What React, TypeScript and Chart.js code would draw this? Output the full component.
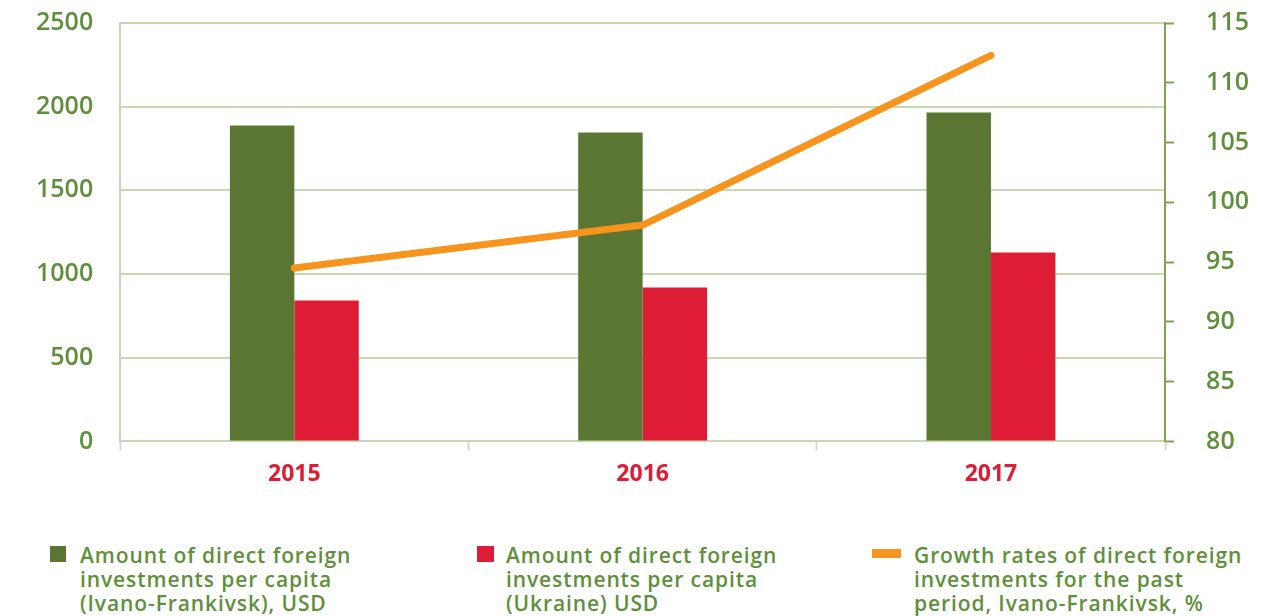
import React, { useEffect, useRef } from "react";
import { Chart, registerables } from "chart.js";

Chart.register(...registerables);

const categories = ["2015", "2016", "2017"];
const perCapitaIvanoFrankivsk = [1888, 1846, 1965];
const perCapitaUkraine = [842, 920, 1129];
const growthRates = [94.5, 98.1, 112.3];

const seriesNames = [
  "Amount of direct foreign\ninvestments per capita\n(Ivano-Frankivsk), USD",
  "Amount of direct foreign\ninvestments per capita\n(Ukraine) USD",
  "Growth rates of direct foreign\ninvestments for the past\nperiod, Ivano-Frankivsk, %",
];

const GREEN_BAR = "#5a7632";
const RED_BAR = "#df1c35";
const ORANGE = "#f7941d";
const TEXT_GREEN = "#5f8f3b";
const GRID = "#c6d9b3";
const RIGHT_AXIS = "#7fa35a";

export default function App() {
  const ref = useRef<HTMLCanvasElement | null>(null);

  useEffect(() => {
    document.body.style.margin = "0";
    const ctx = ref.current;
    if (!ctx) return;
    const chart = new Chart(ctx, {
      type: "bar",
      data: {
        labels: categories,
        datasets: [
          {
            type: "line",
            label: seriesNames[2],
            data: growthRates,
            yAxisID: "y1",
            borderColor: ORANGE,
            backgroundColor: ORANGE,
            borderWidth: 7,
            borderCapStyle: "round",
            borderJoinStyle: "round",
            pointRadius: 0,
            tension: 0,
            order: 0,
          } as any,
          {
            label: seriesNames[0],
            data: perCapitaIvanoFrankivsk,
            backgroundColor: GREEN_BAR,
            yAxisID: "y",
            order: 1,
          },
          {
            label: seriesNames[1],
            data: perCapitaUkraine,
            backgroundColor: RED_BAR,
            yAxisID: "y",
            order: 2,
          },
        ],
      },
      options: {
        responsive: false,
        animation: false,
        devicePixelRatio: 1,
        layout: { padding: { left: 9, right: 0, top: 0, bottom: 6 } },
        datasets: {
          bar: { categoryPercentage: 0.37, barPercentage: 1 },
        } as any,
        plugins: {
          legend: { display: false },
          tooltip: { enabled: false },
        },
        scales: {
          x: {
            grid: {
              drawOnChartArea: false,
              drawTicks: true,
              tickLength: 9,
              tickColor: "#d6d6d6",
              tickWidth: 2,
              offset: true,
            },
            border: { color: GRID, width: 2 },
            ticks: {
              color: RED_BAR,
              padding: 10,
              font: { family: "'Open Sans', sans-serif", size: 23, weight: "bold" },
            },
          },
          y: {
            position: "left",
            min: 0,
            max: 2500,
            ticks: {
              stepSize: 500,
              color: TEXT_GREEN,
              padding: 27,
              callback: (v: any) => String(v),
              font: { family: "'Open Sans', sans-serif", size: 25, weight: 600 },
            },
            grid: { color: GRID, lineWidth: 2, drawTicks: false },
            border: { color: GRID, width: 2 },
          },
          y1: {
            position: "right",
            min: 80,
            max: 115,
            ticks: {
              stepSize: 5,
              color: TEXT_GREEN,
              padding: 32,
              callback: (v: any) => String(v),
              font: { family: "'Open Sans', sans-serif", size: 25, weight: 600 },
            },
            grid: {
              drawOnChartArea: false,
              drawTicks: true,
              tickLength: 9,
              tickColor: RIGHT_AXIS,
              tickWidth: 2,
            },
            border: { color: RIGHT_AXIS, width: 2 },
          },
        },
      },
    });
    return () => chart.destroy();
  }, []);

  const legendItems = [
    { left: 50, marker: { w: 16, h: 16, top: 1, color: GREEN_BAR }, textLeft: 80 },
    { left: 477, marker: { w: 17, h: 16, top: 1, color: RED_BAR }, textLeft: 506 },
    { left: 872, marker: { w: 29, h: 9, top: 4, color: ORANGE }, textLeft: 914 },
  ];

  return (
    <div style={{ position: "fixed", left: 0, top: 0, width: 1263, height: 616, background: "#fff", overflow: "hidden" }}>
      <canvas ref={ref} width={1281} height={528} style={{ display: "block", marginTop: -24 }} />
      {legendItems.map((it, i) => (
        <div key={i}>
          <div
            style={{
              position: "absolute",
              left: it.left,
              top: 545 + it.marker.top,
              width: it.marker.w,
              height: it.marker.h,
              background: it.marker.color,
            }}
          />
          <div
            style={{
              position: "absolute",
              left: it.textLeft,
              top: 543,
              whiteSpace: "pre-line",
              color: TEXT_GREEN,
              fontFamily: "'Open Sans', sans-serif",
              fontWeight: 600,
              fontSize: 21,
              letterSpacing: "0.9px",
              lineHeight: "24px",
            }}
          >
            {seriesNames[i]}
          </div>
        </div>
      ))}
    </div>
  );
}
